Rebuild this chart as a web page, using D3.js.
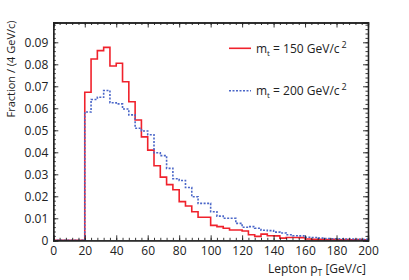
<!DOCTYPE html>
<html><head><meta charset="utf-8">
<script src="https://cdn.jsdelivr.net/npm/d3@7"></script>
<style>body{margin:0;background:#fff}text{font-family:"Open Sans",sans-serif;fill:#222}</style>
</head><body><svg id="c" width="409" height="280"></svg>
<script>
// bin lower edges (GeV/c), width 4
const binEdges = [0,4,8,12,16,20,24,28,32,36,40,44,48,52,56,60,64,68,72,76,80,84,88,92,96,
  100,104,108,112,116,120,124,128,132,136,140,144,148,152,156,160,164,168,172,176,180,184,188,192,196];
const xEnd = 200;
const series150 = [0,0,0,0,0,0.0673,0.0824,0.0862,0.0877,0.0792,0.0805,0.0721,0.0630,0.0547,0.0470,
  0.0410,0.0339,0.0287,0.0253,0.0230,0.0176,0.0156,0.0130,0.0105,0.0105,0.0068,0.0062,0.0055,0.0047,0.0047,
  0.0042,0.0025,0.0018,0.0028,0.0021,0.0020,0.0010,0.0013,0.0013,0.0012,0.0006,0.0005,0.0004,0.0003,0.0004,
  0.0002,0.0003,0.0002,0.0003,0.0002];
const series200 = [0,0,0,0,0,0.0583,0.0640,0.0650,0.0681,0.0625,0.0620,0.0597,0.0570,0.0509,0.0497,
  0.0480,0.0398,0.0385,0.0327,0.0280,0.0272,0.0240,0.0198,0.0168,0.0168,0.0130,0.0110,0.0100,0.0100,0.0077,
  0.0059,0.0062,0.0055,0.0046,0.0044,0.0037,0.0033,0.0025,0.0021,0.0020,0.0014,0.0013,0.0010,0.0008,0.0007,
  0.0007,0.0006,0.0006,0.0005,0.0005];
const xTicks = [0,20,40,60,80,100,120,140,160,180,200];
const yTicks = [0,0.01,0.02,0.03,0.04,0.05,0.06,0.07,0.08,0.09];
const legendLabels = ["150","200"];

const svg = d3.select("#c");
const L=53.3, R=368, T=22.5, B=240.3;
const x = d3.scaleLinear().domain([0,200]).range([L,R]);
const y = d3.scaleLinear().domain([0,0.099]).range([B,T]);
const xMinor = d3.range(0,201,4), yMinor = d3.range(0,0.0985,0.002);

function axes(){
  const g = svg.append("g").attr("class","axes");
  g.append("g").attr("transform",`translate(0,${B})`).call(d3.axisBottom(x).tickValues(xMinor).tickSize(-2.5).tickFormat(""));
  g.append("g").attr("transform",`translate(0,${T})`).call(d3.axisTop(x).tickValues(xMinor).tickSize(-2.5).tickFormat(""));
  g.append("g").attr("transform",`translate(${L},0)`).call(d3.axisLeft(y).tickValues(yMinor).tickSize(-2.5).tickFormat(""));
  g.append("g").attr("transform",`translate(${R},0)`).call(d3.axisRight(y).tickValues(yMinor).tickSize(-2.5).tickFormat(""));
  g.append("g").attr("transform",`translate(0,${B})`).call(d3.axisBottom(x).tickValues(xTicks).tickSize(-5).tickPadding(6).tickFormat(d=>String(d)));
  g.append("g").attr("transform",`translate(0,${T})`).call(d3.axisTop(x).tickValues(xTicks).tickSize(-5).tickFormat(""));
  g.append("g").attr("transform",`translate(${L},0)`).call(d3.axisLeft(y).tickValues(yTicks).tickSize(-5).tickPadding(5).tickFormat(d=>d===0?"0":d.toFixed(2)));
  g.append("g").attr("transform",`translate(${R},0)`).call(d3.axisRight(y).tickValues(yTicks).tickSize(-5).tickFormat(""));
  g.selectAll(".domain").attr("stroke","#222").attr("stroke-width",1.3);
  g.selectAll(".tick line").attr("stroke","#222").attr("stroke-width",0.9);
  g.selectAll(".tick text").attr("font-size",12).attr("font-family","Open Sans").attr("fill","#222");
}

function hist(vals,color,dash,w){
  const pts = binEdges.map((e,i)=>[e,vals[i]]);
  pts.push([xEnd, vals[vals.length-1]]);
  const line = d3.line().x(d=>x(d[0])).y(d=>y(d[1])).curve(d3.curveStepAfter);
  svg.append("path").attr("d",line(pts)).attr("fill","none").attr("stroke",color)
    .attr("stroke-width",w).attr("stroke-dasharray",dash);
}
hist(series150,"#f0222c",null,1.6);
hist(series200,"#4a66c8","2,1.5",1.6);
axes();

svg.append("text").attr("transform",`translate(15,${T-2}) rotate(-90)`).attr("text-anchor","end").attr("font-size",11).text("Fraction / (4 GeV/c)");
const xt = svg.append("text").attr("x",R-2).attr("y",273).attr("text-anchor","end").attr("font-size",12);
xt.append("tspan").text("Lepton p");
xt.append("tspan").attr("font-size",8.5).attr("dy",3).text("T");
xt.append("tspan").attr("dy",-3).text(" [GeV/c]");

const leg = [{c:"#f0222c",d:null,y:48.3,lab:legendLabels[0]},{c:"#4a66c8",d:"2,1.5",y:90.7,lab:legendLabels[1]}];
leg.forEach(l=>{
  svg.append("line").attr("x1",229).attr("x2",251).attr("y1",l.y).attr("y2",l.y).attr("stroke",l.c).attr("stroke-width",1.6).attr("stroke-dasharray",l.d);
  const t = svg.append("text").attr("x",256).attr("y",l.y+4.5).attr("font-size",12);
  t.append("tspan").text("m");
  t.append("tspan").attr("font-size",8).attr("dy",3).text("t");
  t.append("tspan").attr("dy",-3).text(" = "+l.lab+" GeV/c");
  t.append("tspan").attr("font-size",9).attr("dy",-5).attr("dx",2).text("2");
});
</script></body></html>
